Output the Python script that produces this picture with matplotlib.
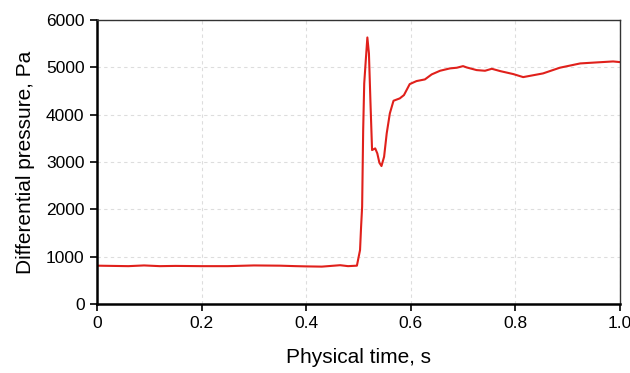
import matplotlib
matplotlib.use("Agg")
import matplotlib.pyplot as plt

plt.rcParams['font.family'] = ['Liberation Sans', 'DejaVu Sans']

# pressure trace
time_s = [0.0, 0.03, 0.06, 0.09, 0.12, 0.15, 0.20, 0.25, 0.30, 0.35, 0.38,
          0.40, 0.43, 0.465, 0.48, 0.497, 0.503, 0.505, 0.507, 0.509, 0.511,
          0.514, 0.517, 0.520, 0.523, 0.526, 0.532, 0.536, 0.540, 0.544,
          0.549, 0.554, 0.560, 0.567, 0.579, 0.587, 0.598, 0.611, 0.627,
          0.640, 0.656, 0.675, 0.688, 0.700, 0.707, 0.726, 0.742, 0.755,
          0.771, 0.796, 0.815, 0.853, 0.885, 0.924, 0.955, 0.987, 1.0]
pressure_pa = [810, 805, 800, 815, 800, 805, 800, 800, 815, 810, 800,
               795, 790, 820, 800, 810, 1140, 1630, 2055, 3676, 4662,
               5155, 5634, 5296, 4240, 3254, 3289, 3184, 2986, 2916,
               3112, 3606, 4029, 4296, 4346, 4416, 4648, 4712, 4747,
               4853, 4930, 4980, 4994, 5028, 5000, 4944, 4930, 4972,
               4923, 4860, 4796, 4874, 4994, 5085, 5106, 5127, 5113]

x_ticks = [0, 0.2, 0.4, 0.6, 0.8, 1.0]
x_tick_labels = ["0", "0.2", "0.4", "0.6", "0.8", "1.0"]
y_ticks = [0, 1000, 2000, 3000, 4000, 5000, 6000]

fig = plt.figure(figsize=(6.3, 3.73), dpi=100)
ax = fig.add_axes([0.154, 0.185, 0.830, 0.761])

ax.plot(time_s, pressure_pa, color='#e0201b', linewidth=1.5)

ax.set_xlim(0, 1.0)
ax.set_ylim(0, 6000)
ax.set_xticks(x_ticks)
ax.set_xticklabels(x_tick_labels)
ax.set_yticks(y_ticks)

ax.grid(True, color='#dddddd', linestyle=(0, (3, 3)), linewidth=0.8)
ax.set_axisbelow(True)

for side in ('left', 'bottom'):
    ax.spines[side].set_linewidth(1.8)
    ax.spines[side].set_color('black')
for side in ('top', 'right'):
    ax.spines[side].set_linewidth(1.0)
    ax.spines[side].set_color('#333333')

ax.tick_params(direction='out', length=5, width=1.2, labelsize=12.5,
               colors='black', pad=4)

ax.set_xlabel("Physical time, s", fontsize=15, labelpad=12)
ax.set_ylabel("Differential pressure, Pa", fontsize=15, labelpad=8)

fig.savefig("out.png", dpi=100)
